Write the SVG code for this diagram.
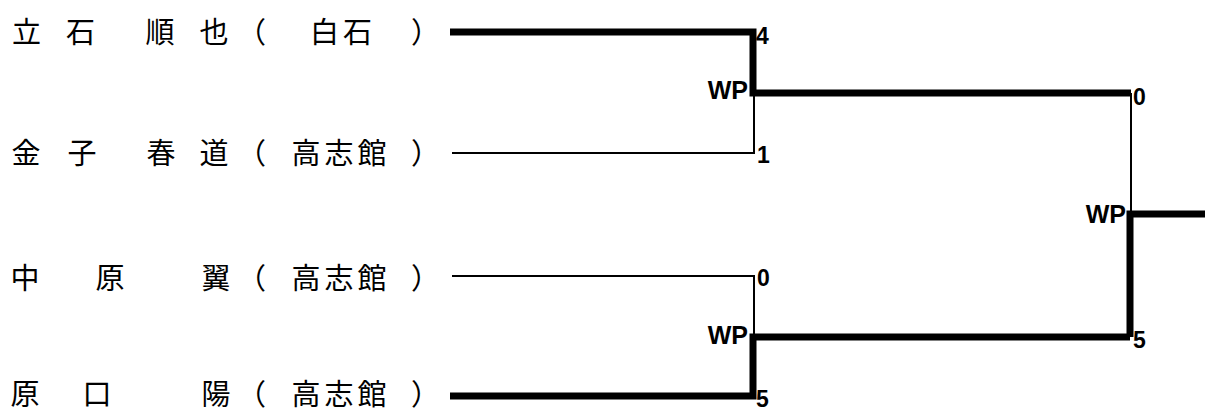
<svg xmlns="http://www.w3.org/2000/svg" width="1205" height="412" viewBox="0 0 1205 412">
<style>
.name{font-family:"Noto Sans CJK JP","Noto Sans CJK SC",sans-serif;font-size:29px;fill:#000;text-anchor:middle;dominant-baseline:central}
.pl{text-anchor:start}
.sc{font-family:"Liberation Sans",Arial,sans-serif;font-weight:bold;font-size:23px;fill:#000}
.wp{font-family:"Liberation Sans",Arial,sans-serif;font-weight:bold;font-size:25px;fill:#000;text-anchor:end}
.thick{fill:none;stroke:#000;stroke-width:7;stroke-linejoin:miter;stroke-linecap:butt}
.thin{fill:none;stroke:#000;stroke-width:2;stroke-linejoin:miter;stroke-linecap:butt}
</style>
<rect width="1205" height="412" fill="#fff"/>
<g id="connectors">
<path class="thin" d="M452 153 H754 V93"/>
<path class="thin" d="M452 276 H754 V337"/>
<path class="thin" d="M1131 93 V214"/>
<path class="thick" d="M450 32 H753 V93 H1131"/>
<path class="thick" d="M450 396 H753 V337 H1130"/>
<path class="thick" d="M1130 337 V214 H1205"/>
</g>
<g id="player1">
<text class="name" y="30"><tspan x="26.5">立</tspan><tspan x="80.5">石</tspan><tspan x="160">順</tspan><tspan x="214">也</tspan><tspan class="pl" x="237">（</tspan><tspan x="324.5">白</tspan><tspan x="357.5">石</tspan><tspan class="pl" x="411">）</tspan></text>
</g>
<g id="player2">
<text class="name" y="151"><tspan x="26">金</tspan><tspan x="82">子</tspan><tspan x="161">春</tspan><tspan x="214">道</tspan><tspan class="pl" x="237">（</tspan><tspan x="306">高</tspan><tspan x="339">志</tspan><tspan x="372">館</tspan><tspan class="pl" x="411">）</tspan></text>
</g>
<g id="player3">
<text class="name" y="276"><tspan x="25">中</tspan><tspan x="110">原</tspan><tspan x="216">翼</tspan><tspan class="pl" x="237">（</tspan><tspan x="306">高</tspan><tspan x="339">志</tspan><tspan x="372">館</tspan><tspan class="pl" x="411">）</tspan></text>
</g>
<g id="player4">
<text class="name" y="392"><tspan x="25">原</tspan><tspan x="97">口</tspan><tspan x="216">陽</tspan><tspan class="pl" x="237">（</tspan><tspan x="306">高</tspan><tspan x="339">志</tspan><tspan x="372">館</tspan><tspan class="pl" x="411">）</tspan></text>
</g>
<g id="match1">
<text class="sc" x="756" y="44">4</text>
<text class="sc" x="757" y="163">1</text>
<text class="wp" x="748" y="99">WP</text>
</g>
<g id="match2">
<text class="sc" x="757" y="286">0</text>
<text class="sc" x="756" y="407">5</text>
<text class="wp" x="748" y="344">WP</text>
</g>
<g id="final">
<text class="sc" x="1133" y="105">0</text>
<text class="sc" x="1133" y="348">5</text>
<text class="wp" x="1126" y="223">WP</text>
</g>
</svg>
